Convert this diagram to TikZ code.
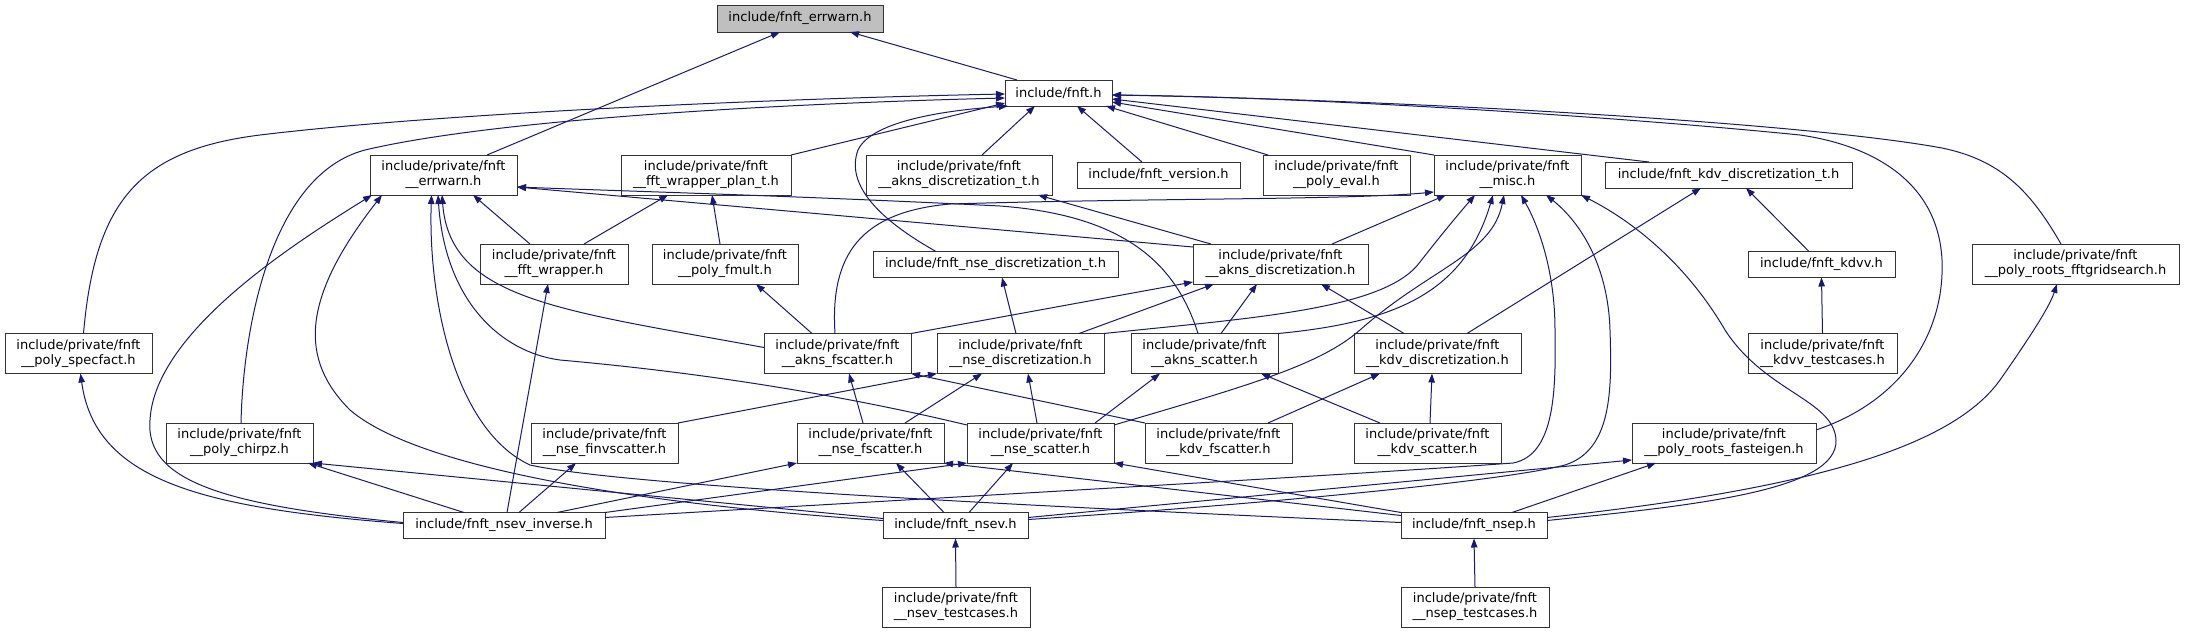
\documentclass[tikz,border=0pt]{standalone}
\usepackage{fontspec}
\setmainfont{DejaVu Sans}
\usetikzlibrary{arrows.meta}
\definecolor{edgeblue}{HTML}{191970}
\definecolor{topgray}{HTML}{BFBFBF}
\newcommand\pvt{include/private/fnft\\\_\_}
\tikzset{
  box/.style={draw=black!80, line width=1pt, fill=white, align=center, inner sep=0pt, outer sep=0pt,
    font=\fontsize{13}{15}\selectfont},
  two/.style={box, minimum width=#1pt, minimum height=40pt},
  one/.style={box, minimum width=#1pt, minimum height=26pt},
  edge/.style={draw=edgeblue, line width=1pt, -{Triangle[length=9pt,width=6.5pt]}},
}
\begin{document}
\begin{tikzpicture}[x=1pt,y=-1pt]
\useasboundingbox (0,0) rectangle (2185,633);
% row 0
\node[one=166, minimum height=27pt, fill=topgray] (errwarnpub) at (800,18.5) {include/fnft\_errwarn.h};
% row 1
\node[one=107] (fnft) at (1058.5,93) {include/fnft.h};
% row 2
\node[two=147] (perrwarn) at (443.5,175) {\pvt errwarn.h};
\node[two=170] (fftplan) at (706,175) {\pvt fft\_wrapper\_plan\_t.h};
\node[two=186] (aknsdt) at (959,175) {\pvt akns\_discretization\_t.h};
\node[one=163] (version) at (1158.5,175) {include/fnft\_version.h};
\node[two=147] (polyeval) at (1336.5,175) {\pvt poly\_eval.h};
\node[two=147] (misc) at (1507.5,175) {\pvt misc.h};
\node[one=247] (kdvdt) at (1728.5,175) {include/fnft\_kdv\_discretization\_t.h};
% row 3
\node[two=148] (fftwrap) at (554,264) {\pvt fft\_wrapper.h};
\node[two=146] (fmult) at (725,264) {\pvt poly\_fmult.h};
\node[one=245] (nsedt) at (995.5,264.5) {include/fnft\_nse\_discretization\_t.h};
\node[two=175] (aknsd) at (1280.5,264) {\pvt akns\_discretization.h};
\node[one=147] (kdvv) at (1821.5,264.5) {include/fnft\_kdvv.h};
\node[two=207] (gridsearch) at (2075.5,264) {\pvt poly\_roots\_fftgridsearch.h};
% row 4
\node[two=147] (specfact) at (78.5,353.5) {\pvt poly\_specfact.h};
\node[two=147] (aknsfs) at (837.5,353.5) {\pvt akns\_fscatter.h};
\node[two=167] (nsed) at (1020.5,353.5) {\pvt nse\_discretization.h};
\node[two=147] (aknss) at (1204.5,353.5) {\pvt akns\_scatter.h};
\node[two=167] (kdvd) at (1437.5,353.5) {\pvt kdv\_discretization.h};
\node[two=149] (kdvvtc) at (1822.5,353.5) {\pvt kdvv\_testcases.h};
% row 5
\node[two=147] (chirpz) at (239.5,443) {\pvt poly\_chirpz.h};
\node[two=147] (finv) at (604.5,443) {\pvt nse\_finvscatter.h};
\node[two=147] (nsefs) at (870.5,443) {\pvt nse\_fscatter.h};
\node[two=147] (nses) at (1040.5,443) {\pvt nse\_scatter.h};
\node[two=147] (kdvfs) at (1218.5,443) {\pvt kdv\_fscatter.h};
\node[two=147] (kdvs) at (1427.5,443) {\pvt kdv\_scatter.h};
\node[two=184] (fasteigen) at (1724,443) {\pvt poly\_roots\_fasteigen.h};
% row 6
\node[one=202] (nsevinv) at (504,525.5) {include/fnft\_nsev\_inverse.h};
\node[one=145] (nsev) at (955.5,525.5) {include/fnft\_nsev.h};
\node[one=146] (nsep) at (1474,525.5) {include/fnft\_nsep.h};
% row 7
\node[two=148] (nsevtc) at (956,607) {\pvt nsev\_testcases.h};
\node[two=148] (nseptc) at (1475,607) {\pvt nsep\_testcases.h};

% ---- edges (child -> parent, arrow at parent)
\draw[edge] ([xshift=-41.5pt]fnft.north) -- ([xshift=50pt]errwarnpub.south);
\draw[edge] ([xshift=43.5pt]perrwarn.north) -- ([xshift=-20pt]errwarnpub.south);
% into fnft.h
\draw[edge] ([xshift=5pt]specfact.north) .. controls (95,200) and (140,150) .. (260,135) .. controls (450,112) and (800,98) .. ([yshift=-1pt]fnft.west);
\draw[edge] ([xshift=1.5pt]chirpz.north) .. controls (243,330) and (270,175) .. (365,150) .. controls (500,118) and (800,103) .. ([yshift=-5pt]fnft.west);
\draw[edge] (fftplan.north east) -- ([yshift=-10pt]fnft.west);
\draw[edge] ([xshift=-59.5pt]nsedt.north) .. controls (880,220) and (845,185) .. (858,150) .. controls (872,120) and (950,110) .. ([xshift=3pt]fnft.south west);
\draw[edge] ([xshift=23pt]aknsdt.north) -- ([xshift=-23.5pt]fnft.south);
\draw[edge] ([xshift=-16.5pt]version.north) -- ([xshift=18.5pt]fnft.south);
\draw[edge] ([xshift=-68.5pt]polyeval.north) -- ([xshift=-6pt]fnft.south east);
\draw[edge] (misc.north west) -- ([yshift=-9pt]fnft.east);
\draw[edge] ([xshift=-79.5pt]kdvdt.north) -- ([yshift=-6pt]fnft.east);
\draw[edge] ([yshift=13pt]fasteigen.east) .. controls (1905,400) and (1945,330) .. (1942,260) .. controls (1938,180) and (1870,145) .. (1800,135) .. controls (1600,115) and (1300,97) .. ([yshift=-2pt]fnft.east);
\draw[edge] ([xshift=-14.5pt]gridsearch.north) .. controls (2030,190) and (2000,160) .. (1942,148) .. controls (1800,122) and (1400,100) .. ([yshift=-2pt]fnft.east);
% into private errwarn
\draw[edge] ([yshift=3pt]nsevinv.west) .. controls (220,505) and (145,480) .. (150,420) .. controls (155,330) and (300,240) .. ([xshift=2pt]perrwarn.south west);
\draw[edge] ([yshift=5pt]nsev.west) .. controls (650,505) and (420,470) .. (350,410) .. controls (300,360) and (300,300) .. ([xshift=12pt]perrwarn.south west);
\draw[edge] ([yshift=3pt]nsep.west) .. controls (1000,505) and (620,485) .. (530,465) .. controls (455,430) and (428,300) .. ([xshift=-12pt]perrwarn.south);
\draw[edge] ([yshift=18pt]nses.west) .. controls (800,385) and (650,368) .. (560,360) .. controls (500,352) and (445,300) .. ([xshift=-5.5pt]perrwarn.south);
\draw[edge] ([yshift=6pt]aknsfs.west) .. controls (560,310) and (450,300) .. ([xshift=-1.5pt]perrwarn.south);
\draw[edge] ([xshift=-24pt]fftwrap.north) -- ([xshift=29.5pt]perrwarn.south);
\draw[edge] ([xshift=-6.5pt]aknss.north) .. controls (1175,260) and (1120,215) .. (1000,206) .. controls (800,196) and (650,192) .. ([yshift=-12pt]perrwarn.east);
\draw[edge] ([yshift=17pt]aknsd.west) -- ([yshift=-12pt]perrwarn.east);
% fft wrapper plan
\draw[edge] ([xshift=30pt]fftwrap.north) -- ([xshift=-38pt]fftplan.south);
\draw[edge] ([xshift=-5pt]fmult.north) -- ([xshift=6pt]fftplan.south);
\draw[edge] ([xshift=3pt]nsevinv.north) -- ([xshift=-6pt]fftwrap.south);
\draw[edge] ([xshift=-25.5pt]aknsfs.north) -- ([xshift=31pt]fmult.south);
\draw[edge] ([xshift=-4.5pt]nsed.north) -- ([xshift=6.5pt]nsedt.south);
\draw[edge] ([xshift=-69.5pt]aknsd.north) -- ([xshift=79pt]aknsdt.south);
% into misc
\draw[edge] ([xshift=-2.5pt]aknsfs.north) .. controls (830,255) and (860,212) .. (950,204) .. controls (1150,198) and (1350,200) .. ([yshift=3pt]misc.south west);
\draw[edge] ([xshift=51.5pt]aknsd.north) -- ([xshift=-61.5pt]misc.south);
\draw[edge] (nsed.north east) .. controls (1250,318) and (1385,310) .. (1420,262) .. controls (1445,230) and (1462,210) .. ([xshift=-32.5pt]misc.south);
\draw[edge] (aknss.north east) .. controls (1400,322) and (1465,290) .. ([xshift=-14.5pt]misc.south);
\draw[edge] ([yshift=18pt]nses.east) .. controls (1250,385) and (1320,365) .. (1360,330) .. controls (1430,268) and (1492,255) .. ([xshift=-3.5pt]misc.south);
\draw[edge] ([yshift=8pt]nsevinv.east) .. controls (900,500) and (1350,475) .. (1513,463) .. controls (1555,455) and (1556,390) .. (1555,330) .. controls (1555,270) and (1538,225) .. ([xshift=13.5pt]misc.south);
\draw[edge] ([yshift=6pt]nsev.east) .. controls (1250,505) and (1500,482) .. (1565,465) .. controls (1612,450) and (1612,390) .. (1610,330) .. controls (1608,265) and (1580,222) .. ([xshift=38.5pt]misc.south);
\draw[edge] ([yshift=5pt]nsep.east) .. controls (1700,505) and (1838,490) .. (1836,440) .. controls (1834,400) and (1765,392) .. (1725,330) .. controls (1690,270) and (1640,225) .. (misc.south east);
% fasteigen, gridsearch
\draw[edge] ([xshift=38pt]nsep.north) -- ([xshift=-68pt]fasteigen.south);
\draw[edge] ([yshift=8pt]nsev.east) -- ([yshift=3pt]fasteigen.south west);
\draw[edge] ([yshift=8pt]nsep.east) .. controls (1800,490) and (1950,450) .. (2000,380) .. controls (2035,330) and (2050,305) .. ([xshift=-18.5pt]gridsearch.south);
% row 4 -> row 3
\draw[edge] ([xshift=58.5pt]nsed.north) -- ([xshift=-66.5pt]aknsd.south);
\draw[edge] (aknsfs.north east) -- ([yshift=2pt]aknsd.south west);
\draw[edge] ([xshift=16.5pt]aknss.north) -- ([xshift=-23.5pt]aknsd.south);
\draw[edge] ([xshift=-33.5pt]kdvd.north) -- ([xshift=40.5pt]aknsd.south);
\draw[edge] ([xshift=29.5pt]kdvd.north) -- ([xshift=-27.5pt]kdvdt.south);
\draw[edge] ([xshift=-12.5pt]kdvv.north) -- ([xshift=17.5pt]kdvdt.south);
\draw[edge] (kdvvtc.north) -- (kdvv.south);
% row 5 -> row 4
\draw[edge] ([xshift=-7.5pt]nsefs.north) -- ([xshift=11.5pt]aknsfs.south);
\draw[edge] (kdvfs.north west) -- (aknsfs.south east);
\draw[edge] (finv.north east) -- (nsed.south west);
\draw[edge] ([xshift=34.5pt]nsefs.north) -- ([xshift=-38.5pt]nsed.south);
\draw[edge] ([xshift=-3.5pt]nses.north) -- ([xshift=7.5pt]nsed.south);
\draw[edge] ([xshift=54.5pt]nses.north) -- ([xshift=-44.5pt]aknss.south);
\draw[edge] ([xshift=-47.5pt]kdvs.north) -- ([xshift=56.5pt]aknss.south);
\draw[edge] ([xshift=49.5pt]kdvfs.north) -- ([xshift=-57.5pt]kdvd.south);
\draw[edge] ([xshift=2.5pt]kdvs.north) -- ([xshift=-5.5pt]kdvd.south);
% row 6 -> row 5 / 4
\draw[edge] ([yshift=2pt]nsevinv.west) .. controls (200,508) and (95,480) .. ([xshift=2pt]specfact.south);
\draw[edge] ([xshift=-40pt]nsevinv.north) -- ([xshift=-5pt]chirpz.south east);
\draw[edge] ([yshift=7pt]nsev.west) -- (chirpz.south east);
\draw[edge] ([xshift=15pt]nsevinv.north) -- ([xshift=-28.5pt]finv.south);
\draw[edge] ([xshift=53pt]nsevinv.north) -- (nsefs.south west);
\draw[edge] (nsevinv.north east) -- (nses.south west);
\draw[edge] ([yshift=10pt]nsep.west) -- (nsefs.south east);
\draw[edge] ([xshift=-11.5pt]nsev.north) -- ([xshift=25.5pt]nsefs.south);
\draw[edge] ([xshift=13.5pt]nsev.north) -- ([xshift=-27.5pt]nses.south);
\draw[edge] (nsep.north west) -- (nses.south east);
% testcases
\draw[edge] (nsevtc.north) -- (nsev.south);
\draw[edge] (nseptc.north) -- (nsep.south);
\end{tikzpicture}
\end{document}
